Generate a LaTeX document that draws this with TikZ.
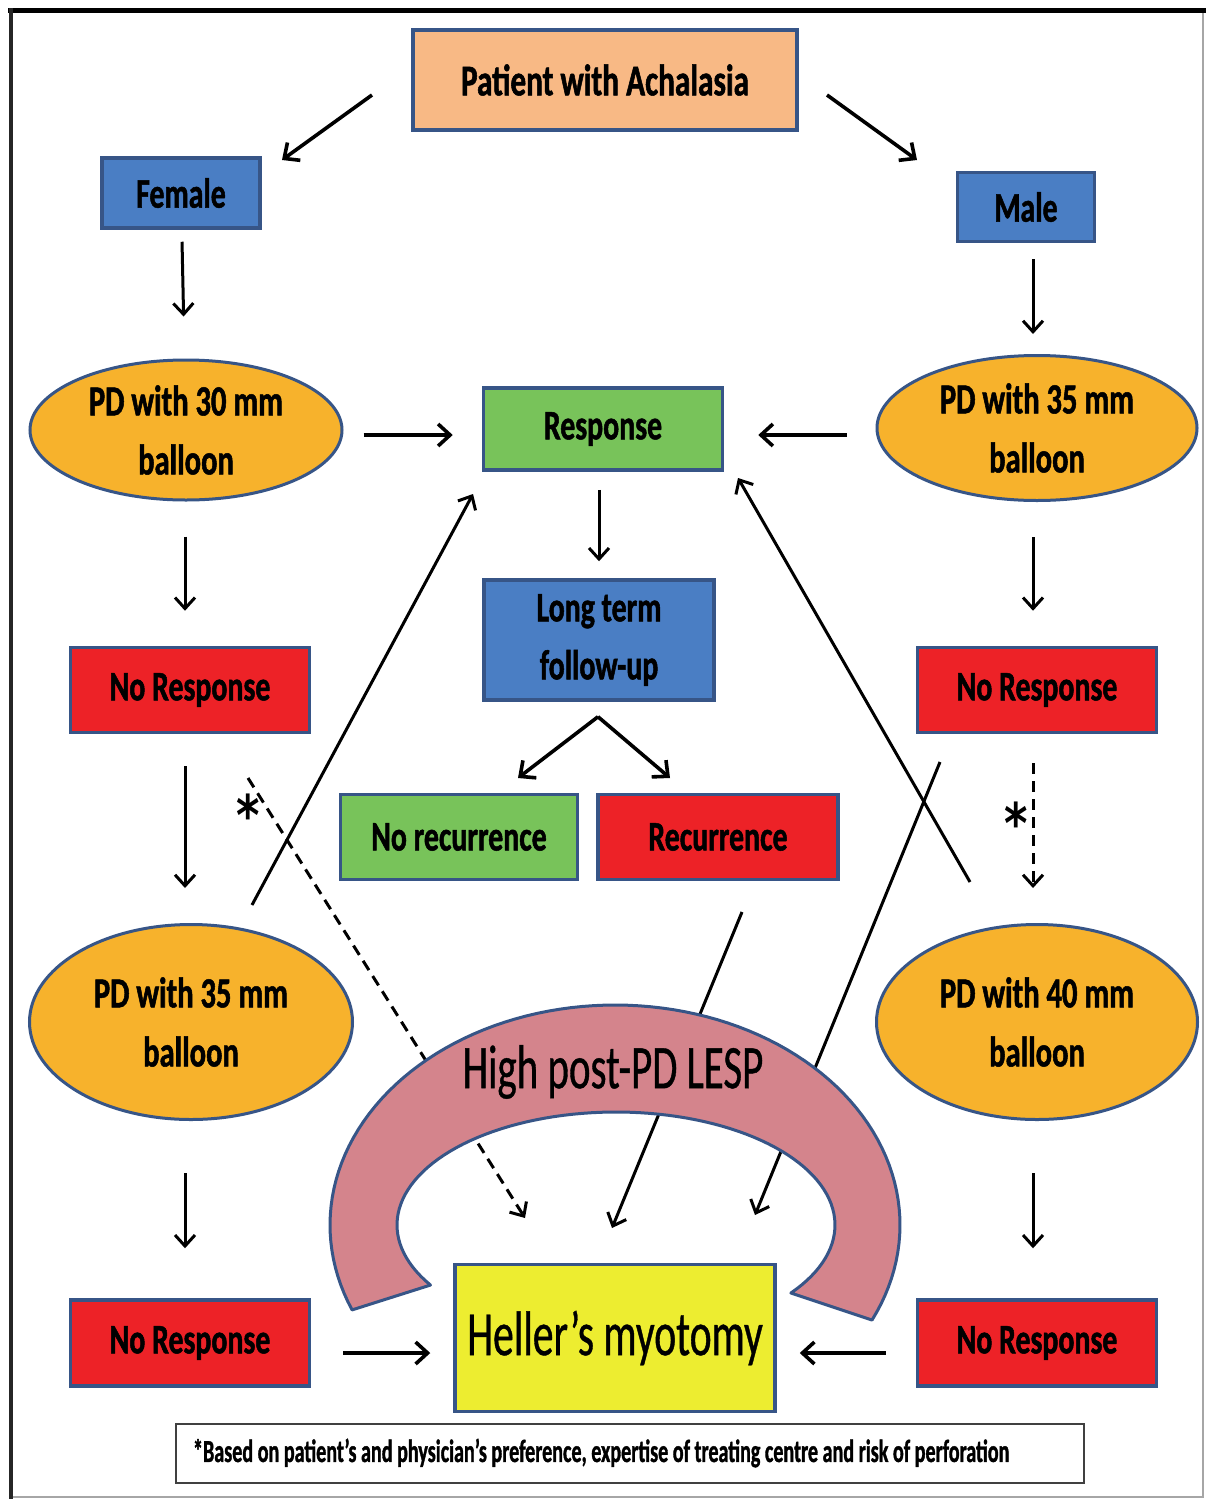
\documentclass[tikz,border=0pt]{standalone}
\usepackage{fontspec}
\newfontfamily\fbold{Carlito}[FakeStretch=0.71, BoldFeatures={FakeBold=1.2}]
\newfontfamily\freg{Carlito}[FakeStretch=0.66, FakeBold=0.6]
\newfontfamily\fstar{DejaVu Sans}[FakeStretch=0.8]
\usetikzlibrary{arrows.meta,shapes.geometric,calc}
\definecolor{peach}{RGB}{248,185,133}
\definecolor{boxblue}{RGB}{74,126,196}
\definecolor{bord}{RGB}{55,85,135}
\definecolor{boxgreen}{RGB}{120,195,90}
\definecolor{boxred}{RGB}{237,34,39}
\definecolor{ellorange}{RGB}{247,178,44}
\definecolor{boxyellow}{RGB}{237,237,48}
\definecolor{archpink}{RGB}{212,132,140}
\begin{document}
\begin{tikzpicture}[x=1pt,y=-1pt,
  box/.style={draw=bord, line width=3.5pt, inner sep=0pt, align=center,
    font=\fbold\bfseries\fontsize{42}{58}\selectfont},
  ell/.style={ellipse, draw=bord, fill=ellorange, line width=3pt, inner sep=0pt, align=center,
    font=\fbold\bfseries\fontsize{43}{59}\selectfont},
  arr/.style={line width=3pt, -{Straight Barb[length=11pt,width=20pt]}},
  harr/.style={line width=3.6pt, -{Straight Barb[length=12pt,width=22pt]}},
  darr/.style={arr, dash pattern=on 11pt off 7pt},
  arch/.style={draw=bord, fill=archpink, line width=3pt, line join=round},
  star/.style={inner sep=0pt, font=\fstar\bfseries\fontsize{56}{56}\selectfont}]
\useasboundingbox (0,0) rectangle (1206,1499);
\fill[white] (0,0) rectangle (1206,1499);
% frame
\draw[gray!70, line width=1.2pt] (11,10) -- (1203,10) -- (1203,1497) -- (11,1497);
\draw[black, line width=5pt] (8,10) -- (1206,10);
\draw[black!85, line width=3.5pt] (11,8) -- (11,1499);

% nodes
\node[box, fill=peach, minimum width=384pt, minimum height=100pt, font=\fbold\bfseries\fontsize{44}{50}\selectfont] (patient) at (605,80) {Patient with Achalasia};
\node[box, fill=boxblue, minimum width=158pt, minimum height=70pt] (female) at (181,193) {Female};
\node[box, fill=boxblue, minimum width=137pt, minimum height=69pt] (male) at (1026,207) {Male};
\node[ell, minimum width=312pt, minimum height=140pt] (pd30) at (186,430) {PD with 30 mm\\balloon};
\node[box, fill=boxgreen, minimum width=239pt, minimum height=82pt] (resp) at (603,429) {Response};
\node[ell, minimum width=320pt, minimum height=145pt] (pd35r) at (1037,428) {PD with 35 mm\\balloon};
\node[box, fill=boxred, minimum width=239pt, minimum height=85pt] (nr1) at (190,690) {No Response};
\node[box, fill=boxblue, minimum width=230pt, minimum height=120pt] (long) at (599,640) {Long term\\follow-up};
\node[box, fill=boxred, minimum width=239pt, minimum height=85pt] (nr2) at (1037,690) {No Response};
\node[box, fill=boxgreen, minimum width=237pt, minimum height=85pt] (norec) at (459,837) {No recurrence};
\node[box, fill=boxred, minimum width=240pt, minimum height=85pt] (rec) at (718,837) {Recurrence};
\node[ell, minimum width=323pt, minimum height=195pt] (pd35l) at (191,1022) {PD with 35 mm\\balloon};
\node[ell, minimum width=321pt, minimum height=195pt] (pd40) at (1037,1022) {PD with 40 mm\\balloon};
\node[box, fill=boxred, minimum width=239pt, minimum height=86pt] (nr3) at (190,1343) {No Response};
\node[box, fill=boxyellow, minimum width=320pt, minimum height=147pt, font=\freg\fontsize{63}{63}\selectfont] (heller) at (615,1338) {Heller’s myotomy};
\node[box, fill=boxred, minimum width=239pt, minimum height=86pt] (nr4) at (1037,1343) {No Response};
\node[draw=black!75, line width=2pt, fill=white, minimum width=908pt, minimum height=59pt, inner sep=0pt,
  font=\fbold\bfseries\fontsize{32}{32}\selectfont] (foot) at (630,1453)
  {\makebox[906pt][l]{\hspace{16pt}\scalebox{0.885}[1]{*Based on patient’s and physician’s preference, expertise of treating centre and risk of perforation}}};

% named free ends
\coordinate (pf1) at (372,95);  \coordinate (pf2) at (282,160);
\coordinate (pm1) at (827,95);  \coordinate (pm2) at (917,160);
\coordinate (apex) at ($(long.south)+(-1,15)$);
\coordinate (nrl) at (518,778); \coordinate (rcl) at (670,778);
\coordinate (a1) at (252,905);  \coordinate (a2) at (473,494);
\coordinate (b1) at (970,882);  \coordinate (b2) at (738,478);
\coordinate (c1) at (742,912);  \coordinate (c2) at (612,1228);
\coordinate (d1) at (940,762);  \coordinate (d2) at (755,1215);
\coordinate (e1) at (248,778);  \coordinate (e2) at (525,1218);

% connectors
\draw[harr] (pf1) -- (pf2);
\draw[harr] (pm1) -- (pm2);
\draw[arr, shorten <=12pt, shorten >=42pt] (female) -- (pd30);
\draw[arr, shorten <=16pt, shorten >=20pt] ($(male.south)+(7,0)$) -- ($(pd35r.north)+(-4,0)$);
\draw[harr, shorten <=20pt, shorten >=29pt] ($(pd30.east)+(0,5)$) -- ($(resp.west)+(0,6)$);
\draw[harr, shorten <=29pt, shorten >=34pt] ($(pd35r.west)+(0,7)$) -- ($(resp.east)+(0,6)$);
\draw[arr, shorten <=18pt, shorten >=17pt] ($(resp.south)+(-4,0)$) -- (long.north);
\draw[arr, shorten <=35pt, shorten >=35pt] ($(pd30.south)+(-1,0)$) -- ($(nr1.north)+(-5,0)$);
\draw[arr, shorten <=35pt, shorten >=35pt] ($(pd35r.south)+(-4,0)$) -- ($(nr2.north)+(-4,0)$);
\draw[harr] (apex) -- (nrl);
\draw[harr] (apex) -- (rcl);
\draw[arr, shorten <=32pt, shorten >=35pt] ($(nr1.south)+(-5,0)$) -- ($(pd35l.north)+(-6,0)$);
\draw[darr, shorten <=29pt, shorten >=35pt] ($(nr2.south)+(-4,0)$) -- ($(pd40.north)+(-4,0)$);
\draw[arr, shorten <=52pt, shorten >=50pt] ($(pd35l.south)+(-6,0)$) -- ($(nr3.north)+(-5,0)$);
\draw[arr, shorten <=52pt, shorten >=50pt] ($(pd40.south)+(-4,0)$) -- ($(nr4.north)+(-4,0)$);
\draw[harr, shorten <=32pt, shorten >=23pt] ($(nr3.east)+(0,10)$) -- ($(heller.west)+(0,15)$);
\draw[harr, shorten <=30pt, shorten >=23pt] ($(nr4.west)+(0,10)$) -- ($(heller.east)+(0,15)$);
\draw[arr] (a1) -- (a2);
\draw[arr] (b1) -- (b2);
\draw[arr] (c1) -- (c2);
\draw[arr] (d1) -- (d2);
\draw[darr] (e1) -- (e2);
\node[star] (s1) at (248,815) {*};
\node[star] (s2) at (1016,823) {*};

% arch
\draw[arch] plot[domain=157.3:385.6, samples=100] ({615+285*cos(\x)},{1225+220*sin(\x)})
  -- plot[domain=397:147.9, samples=100] ({616+219*cos(\x)},{1225+113*sin(\x)}) -- cycle;
\node[inner sep=0pt, font=\freg\fontsize{62}{62}\selectfont] (lesp) at (613,1072) {High post-PD LESP};
\end{tikzpicture}
\end{document}
